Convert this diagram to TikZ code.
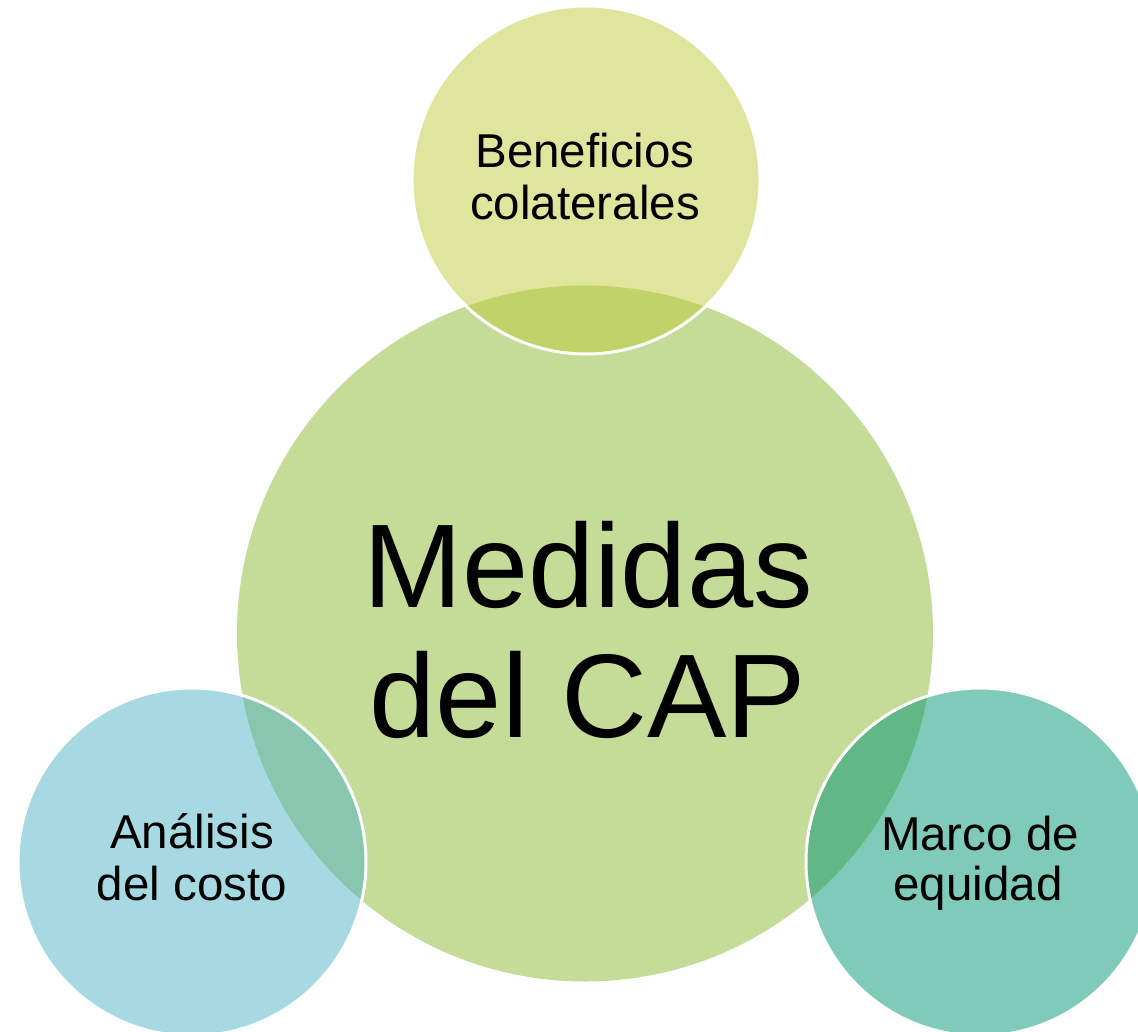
\documentclass[tikz,border=0pt]{standalone}
\usepackage{fontspec}
\setmainfont{Liberation Sans}
\definecolor{bigc}{RGB}{197,219,152}
\definecolor{topc}{RGB}{191,203,59}
\definecolor{leftc}{RGB}{77,179,197}
\definecolor{rightc}{RGB}{1,149,117}
\tikzset{
  disc/.style={circle, inner sep=0pt, outer sep=0pt, minimum size=#1},
  satellite/.style={disc=348pt, draw=white, line width=3pt, fill opacity=0.5},
  smalltxt/.style={anchor=base, inner sep=0pt, font=\fontsize{47.5}{52}\selectfont},
  bigtxt/.style={anchor=base, inner sep=0pt, font=\fontsize{119}{130}\selectfont},
}
\begin{document}
\begin{tikzpicture}[x=1pt, y=-1pt]
\useasboundingbox (0,0) rectangle (1138,1031);
\clip (0,0) rectangle (1138,1031);
\node[disc=696pt, fill=bigc] (big) at (585,633.5) {};
\node[satellite, fill=topc] (top) at (586,180) {};
\node[satellite, fill=leftc] (left) at (192,862) {};
\node[satellite, fill=rightc] (right) at (980,862) {};
\node[bigtxt] (m1) at (588,607) {Medidas};
\node[bigtxt] (m2) at (588,737) {del CAP};
\node[smalltxt] (t1) at (585,167) {Beneficios};
\node[smalltxt] (t2) at (585,219) {colaterales};
\node[smalltxt] (l1) at (192,848) {Análisis};
\node[smalltxt] (l2) at (192,900) {del costo};
\node[smalltxt] (r1) at (980,850) {Marco de};
\node[smalltxt] (r2) at (978,900) {equidad};
\end{tikzpicture}
\end{document}
